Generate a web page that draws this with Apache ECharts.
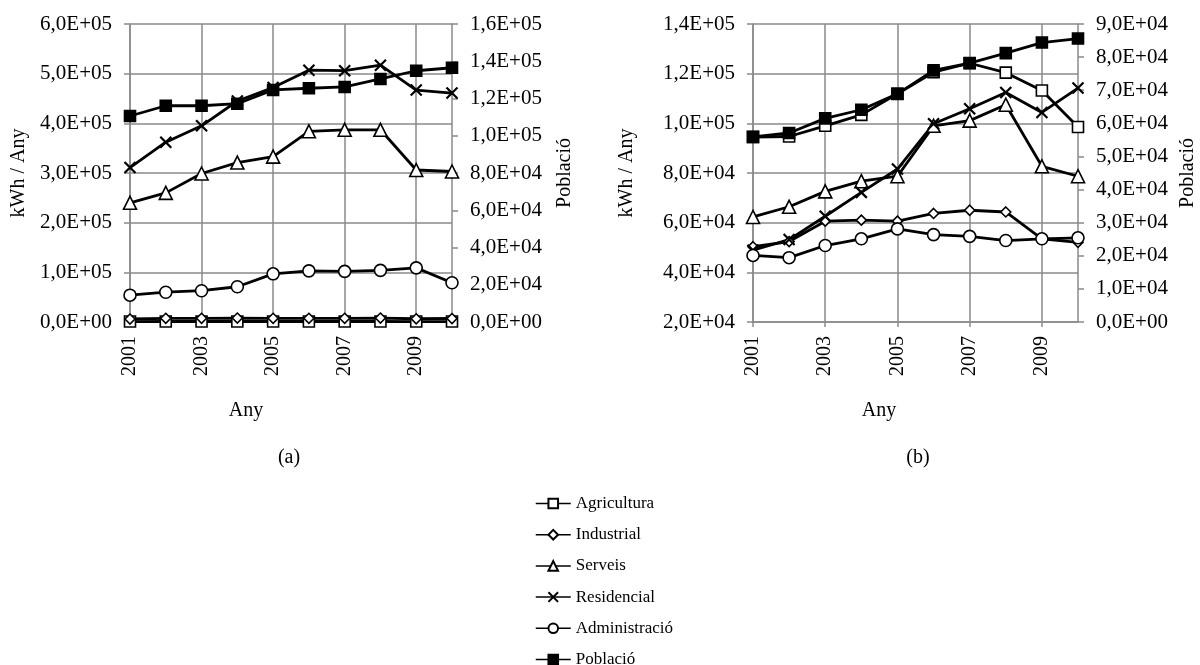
<!DOCTYPE html>
<html>
<head>
<meta charset="utf-8">
<title>Consum elèctric i població</title>
<script src="https://cdn.jsdelivr.net/npm/echarts@6/dist/echarts.min.js"></script>
<style>
  html, body { margin: 0; padding: 0; background: #fff; }
  #chart { width: 1200px; height: 665px; }
</style>
</head>
<body>
<div id="chart"></div>
<script>
// Years on the horizontal axis
const years = ['2001', '2002', '2003', '2004', '2005', '2006', '2007', '2008', '2009', '2010'];

// (a) consumption per sector, kWh / year
const agriA = [900, 1000, 1000, 1100, 1000, 1000, 1100, 1000, 900, 900];
const indA  = [6000, 7500, 7500, 8000, 7500, 7500, 7500, 8000, 6500, 7000];
const servA = [240000, 260000, 299000, 321000, 333000, 384000, 387000, 387000, 306000, 303000];
const resA  = [311000, 362000, 395000, 445000, 472000, 507000, 506000, 517000, 467000, 461000];
const admA  = [54000, 60000, 63000, 71000, 97000, 103000, 102000, 104000, 109000, 79000];
// (a) population (secondary axis)
const pobA  = [110600, 116100, 116100, 117200, 124600, 125500, 126200, 130500, 134900, 136500];

// (b) consumption per sector, kWh / year
const agriB = [94500, 94700, 99000, 103400, 111900, 120600, 124200, 120400, 113200, 98500];
const indB  = [50300, 52400, 60600, 61000, 60600, 63700, 65000, 64300, 53500, 52100];
const servB = [62300, 66400, 72600, 76700, 78700, 99000, 101100, 107500, 82700, 78700];
const resB  = [48900, 53200, 62600, 72200, 81600, 99800, 105900, 112400, 104400, 114200];
const admB  = [46800, 45900, 50800, 53500, 57500, 55200, 54500, 52800, 53500, 53900];
// (b) population (secondary axis)
const pobB  = [55900, 57100, 61500, 64100, 68900, 76000, 78200, 81200, 84400, 85600];

// Axis ranges: [min, max, interval]
const rangeA_left  = [0, 600000, 100000];
const rangeA_right = [0, 160000, 20000];
const rangeB_left  = [20000, 140000, 20000];
const rangeB_right = [0, 90000, 10000];

const seriesNames = ['Agricultura', 'Industrial', 'Serveis', 'Residencial', 'Administració', 'Població'];

const FONT = "'Liberation Serif', 'Times New Roman', serif";
const GRID_GRAY = '#8a8a8a';

// Spreadsheet-style scientific notation with decimal comma: 6,0E+05
function sci(v) {
  if (v === 0) return '0,0E+00';
  const e = Math.floor(Math.log10(Math.abs(v)) + 1e-9);
  const m = v / Math.pow(10, e);
  return m.toFixed(1).replace('.', ',') + 'E+' + String(e).padStart(2, '0');
}

const markers = {
  'Agricultura':   { symbol: 'rect', size: 11, fill: '#fff' },
  'Industrial':    { symbol: 'diamond', size: 10, fill: '#fff' },
  'Serveis':       { symbol: 'triangle', size: 13, fill: '#fff' },
  'Residencial':   { symbol: 'path://M0,0L1,1M1,0L0,1', size: 11, fill: '#000' },
  'Administració': { symbol: 'circle', size: 12, fill: '#fff' },
  'Població':      { symbol: 'rect', size: 11, fill: '#000' }
};

function lineSeries(name, data, xIdx, yIdx) {
  const mk = markers[name];
  return {
    name: name,
    type: 'line',
    xAxisIndex: xIdx,
    yAxisIndex: yIdx,
    data: data,
    symbol: mk.symbol,
    symbolSize: mk.size,
    showAllSymbol: true,
    lineStyle: { color: '#000', width: 2.8 },
    itemStyle: { color: mk.fill, borderColor: '#000', borderWidth: name === 'Residencial' ? 2.2 : 1.6 },
    emphasis: { disabled: true },
    z: name === 'Població' ? 5 : 3
  };
}

function xAxisFor(gridIndex) {
  return {
    type: 'category',
    gridIndex: gridIndex,
    data: years,
    boundaryGap: false,
    axisLine: { show: true, lineStyle: { color: GRID_GRAY, width: 1.5 } },
    axisTick: { show: true, interval: 1, length: 5, lineStyle: { color: GRID_GRAY, width: 1.5 } },
    splitLine: { show: true, interval: 1, lineStyle: { color: GRID_GRAY, width: 1.5 } },
    axisLabel: { interval: 1, rotate: 90, margin: 14, color: '#000', fontFamily: FONT, fontSize: 20 }
  };
}

function yAxisFor(gridIndex, range, side, grid) {
  return {
    type: 'value',
    gridIndex: gridIndex,
    position: side,
    min: range[0],
    max: range[1],
    interval: range[2],
    axisLine: { show: true, lineStyle: { color: GRID_GRAY, width: 1.5 } },
    axisTick: { show: true, length: 6, lineStyle: { color: GRID_GRAY, width: 1.5 } },
    splitLine: { show: grid, lineStyle: { color: GRID_GRAY, width: 1.5 } },
    axisLabel: { margin: 18, color: '#000', fontFamily: FONT, fontSize: 21, formatter: sci }
  };
}

function titleText(text, x, y, rotated) {
  return {
    type: 'text',
    x: x,
    y: y,
    rotation: rotated ? Math.PI / 2 : 0,
    style: {
      text: text,
      fill: '#000',
      font: '20px ' + FONT,
      textAlign: 'center',
      textVerticalAlign: 'middle'
    },
    silent: true
  };
}

const chart = echarts.init(document.getElementById('chart'), null, { renderer: 'canvas' });

chart.setOption({
  animation: false,
  backgroundColor: '#fff',
  grid: [
    { left: 130, top: 24, width: 322, height: 298 },
    { left: 753, top: 24, width: 325, height: 298 }
  ],
  xAxis: [xAxisFor(0), xAxisFor(1)],
  yAxis: [
    yAxisFor(0, rangeA_left, 'left', true),
    yAxisFor(0, rangeA_right, 'right', false),
    yAxisFor(1, rangeB_left, 'left', true),
    yAxisFor(1, rangeB_right, 'right', false)
  ],
  legend: {
    orient: 'vertical',
    left: 535,
    top: 495,
    height: 220,
    padding: 0,
    itemWidth: 35,
    itemHeight: 12,
    itemGap: 14.2,
    data: seriesNames,
    lineStyle: { width: 1.5 },
    textStyle: { color: '#000', fontFamily: FONT, fontSize: 17 },
    selectedMode: false
  },
  graphic: [
    titleText('kWh / Any', 19, 173, true),
    titleText('Població', 565, 173, true),
    titleText('Any', 246, 411, false),
    titleText('(a)', 289, 458, false),
    titleText('kWh / Any', 627, 173, true),
    titleText('Població', 1188, 173, true),
    titleText('Any', 879, 411, false),
    titleText('(b)', 918, 458, false)
  ],
  series: [
    lineSeries('Agricultura', agriA, 0, 0),
    lineSeries('Industrial', indA, 0, 0),
    lineSeries('Serveis', servA, 0, 0),
    lineSeries('Residencial', resA, 0, 0),
    lineSeries('Administració', admA, 0, 0),
    lineSeries('Població', pobA, 0, 1),
    lineSeries('Agricultura', agriB, 1, 2),
    lineSeries('Industrial', indB, 1, 2),
    lineSeries('Serveis', servB, 1, 2),
    lineSeries('Residencial', resB, 1, 2),
    lineSeries('Administració', admB, 1, 2),
    lineSeries('Població', pobB, 1, 3)
  ]
});
</script>
</body>
</html>
